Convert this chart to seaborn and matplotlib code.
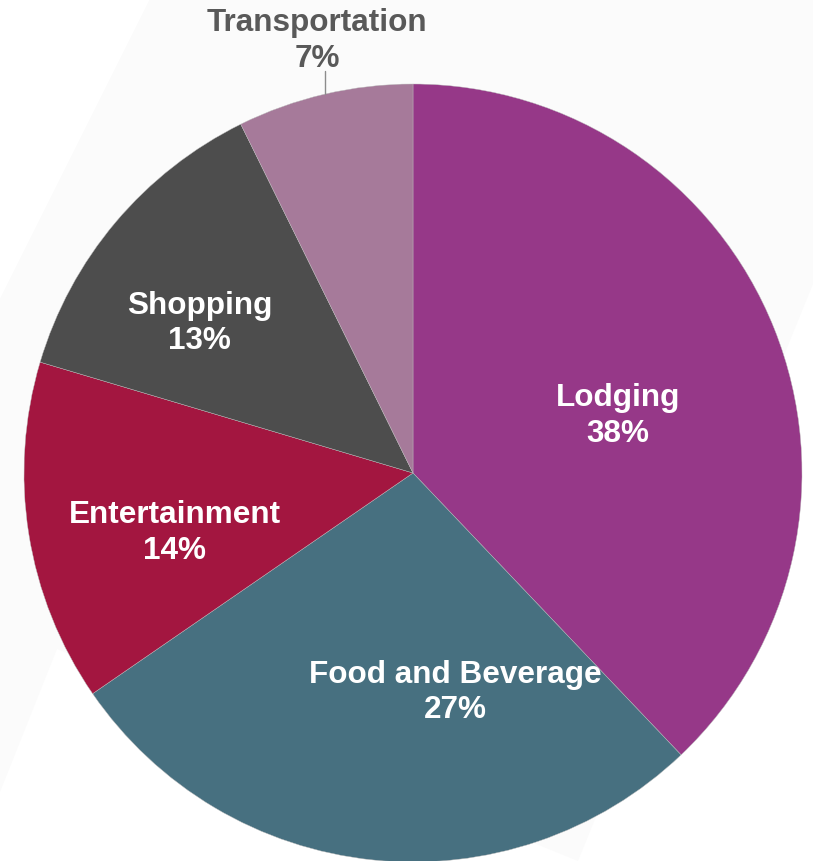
import numpy as np
import seaborn as sns
import matplotlib.pyplot as plt
from matplotlib.patches import Polygon

# spending share by category
categories = ["Lodging", "Food and Beverage", "Entertainment", "Shopping", "Transportation"]
shares = [37.9, 27.5, 14.2, 13.1, 7.3]
shown_pct = ["38%", "27%", "14%", "13%", "7%"]
colors = ["#963888", "#477080", "#A31640", "#4D4D4D", "#A67A9A"]

# where each label sits, in pie radius units (x right, y up)
label_pos = [(0.526, 0.149), (0.110, -0.562), (-0.613, -0.151),
             (-0.549, 0.387), (-0.246, 1.113)]
outside = [False, False, False, False, True]

W, H = 813, 862
CX, CY, R = 413, 474, 389


def px(x, y):
    # pixel position on the canvas -> pie units
    return ((x - CX) / R, (CY - y) / R)


sns.set_theme(style="white")
plt.rcParams['font.family'] = ['Liberation Sans', 'DejaVu Sans']

fig = plt.figure(figsize=(W / 100, H / 100), dpi=100)
ax = fig.add_axes([0, 0, 1, 1])

# faint background shape
bg = [px(150, 0), px(813, 0), px(813, 285), px(578, 862),
      px(57, 650), px(0, 793), px(0, 300)]
ax.add_patch(Polygon(bg, closed=True, facecolor="#FBFBFB", edgecolor="none", zorder=0))

wedges, _ = ax.pie(shares, colors=sns.color_palette(colors), startangle=90,
                   counterclock=False, radius=1.0,
                   wedgeprops=dict(linewidth=0.3, edgecolor="#bbbbbb"))
for w in wedges:
    w.set_zorder(1)

for i, w in enumerate(wedges):
    lx, ly = label_pos[i]
    txt = f"{categories[i]}\n{shown_pct[i]}"
    if outside[i]:
        ang = np.deg2rad((w.theta1 + w.theta2) / 2)
        ex, ey = np.cos(ang), np.sin(ang)
        ax.plot([ex, ex], [ey, 1.033], color="#8c8c8c", lw=1, zorder=2)
        ax.text(lx, ly, txt, ha="center", va="center", fontsize=22.7,
                fontweight="bold", color="#595959", zorder=3, linespacing=1.25)
    else:
        ax.text(lx, ly, txt, ha="center", va="center", fontsize=22.7,
                fontweight="bold", color="white", zorder=3, linespacing=1.25)

x0, y0 = px(0, H)
x1, y1 = px(W, 0)
ax.set_xlim(x0, x1)
ax.set_ylim(y0, y1)
ax.set_aspect("auto")
ax.axis("off")

fig.savefig("out.png", dpi=100)
